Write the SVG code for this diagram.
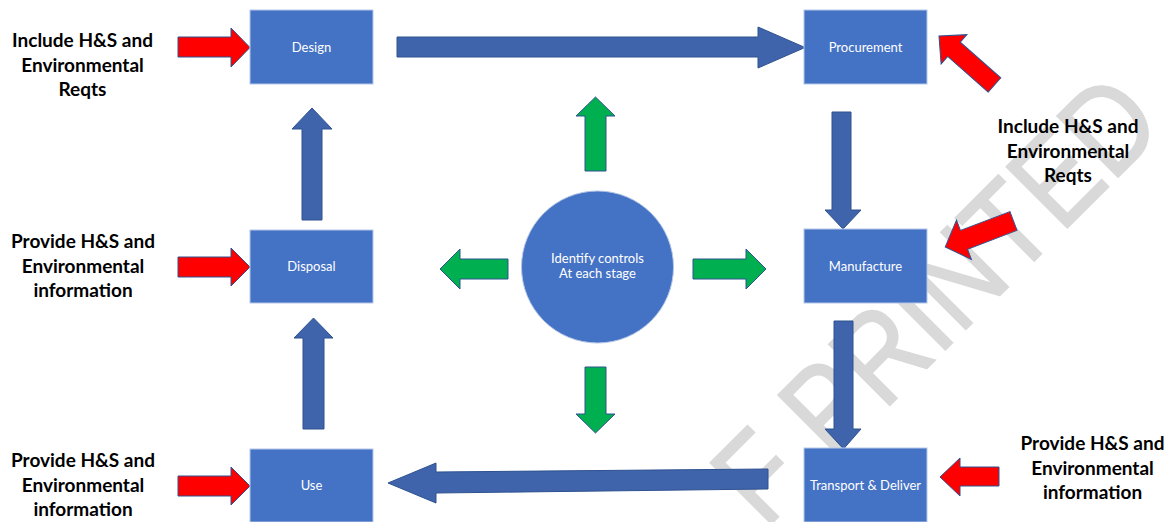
<svg xmlns="http://www.w3.org/2000/svg" width="1172" height="522" viewBox="0 0 1172 522">
<style>
.box{fill:#4472C4;stroke:#b4c7e7;stroke-width:1}
.bt{font-family:Lato,"Liberation Sans",sans-serif;font-size:13px;fill:#ffffff;text-anchor:middle}
.lbl{font-family:Lato,"Liberation Sans",sans-serif;font-size:19px;font-weight:bold;fill:#000000;text-anchor:middle}
.blue{fill:#3F64AB;stroke:#2F528F;stroke-width:1}
.green{fill:#00B050;stroke:#2F528F;stroke-width:1}
.red{fill:#FF0000;stroke:#2F528F;stroke-width:1}
.wm{font-family:"Liberation Sans",sans-serif;font-size:125px;fill:#d9d9d9;stroke:#d9d9d9;stroke-width:2}
</style>
<rect width="1172" height="522" fill="#ffffff"/>
<g id="watermark">
<text class="wm" transform="translate(765,530) rotate(-45)" x="0" y="0" textLength="568" lengthAdjust="spacingAndGlyphs">F PRINTED</text>
</g>
<g id="connectors">
<polygon class="blue" points="397,37 758,37 758,27 805,47.5 758,68 758,57 397,57"/>
<polygon class="blue" points="832,112 851,112 851,210 861,210 843,229 825,210 832,210"/>
<polygon class="blue" points="834,321 853,321 853,429 861,429 843.5,449 825,429 834,429"/>
<polygon class="blue" points="768,469 768,489 436,493 436,503 388,483 436,463 436,472"/>
<polygon class="blue" points="303,429 324,429 324,338 333,338 313.5,318 294,338 303,338"/>
<polygon class="blue" points="302,220 322,220 322,129 332,129 312,108 292,129 302,129"/>
<polygon class="green" points="585,171 606,171 606,116 615,116 595.5,97 576,116 585,116"/>
<polygon class="green" points="585,367 606,367 606,414 615,414 595.5,433 576,414 585,414"/>
<polygon class="green" points="508,259 508,279 460,279 460,289 440,269 460,249 460,259"/>
<polygon class="green" points="693,259 746,259 746,249 766,269 746,289 746,279 693,279"/>
<polygon class="red" points="178,37 231,37 231,28 250,47.5 231,67 231,57 178,57"/>
<polygon class="red" points="178,257 231,257 231,248 250,267 231,286 231,277 178,277"/>
<polygon class="red" points="178,476 231,476 231,467 250,486 231,505 231,496 178,496"/>
<polygon class="red" points="999,467 960,467 960,458 940,477 960,496 960,486 999,486"/>
<path class="red" transform="translate(994.5,85) rotate(-138.6)" d="M0,-9.5 L54,-9.5 L54,-19.5 L74,0 L54,19.5 L54,9.5 L0,9.5 Z"/>
<path class="red" transform="translate(1013.5,221) rotate(159.2)" d="M0,-10 L53,-10 L53,-21 L73,0 L53,21 L53,10 L0,10 Z"/>
</g>
<g id="design"><rect class="box" x="250" y="10" width="123" height="74"/><text class="bt" x="311.5" y="51.5">Design</text></g>
<g id="procurement"><rect class="box" x="804" y="10" width="123" height="74"/><text class="bt" x="865.5" y="51.5">Procurement</text></g>
<g id="manufacture"><rect class="box" x="804" y="229" width="123" height="74"/><text class="bt" x="865.5" y="271">Manufacture</text></g>
<g id="transport"><rect class="box" x="804" y="448" width="123" height="74"/><text class="bt" x="865.5" y="490">Transport &amp; Deliver</text></g>
<g id="disposal"><rect class="box" x="250" y="230" width="123" height="73"/><text class="bt" x="311.5" y="271">Disposal</text></g>
<g id="use"><rect class="box" x="250" y="449" width="123" height="73"/><text class="bt" x="311.5" y="490">Use</text></g>
<g id="controls"><circle cx="597.5" cy="267" r="76" fill="#4472C4" stroke="#b4c7e7" stroke-width="1"/><text class="bt" x="597.5" y="263">Identify controls</text><text class="bt" x="597.5" y="278">At each stage</text></g>
<g id="label-design"><text class="lbl" x="82.5" y="47">Include H&amp;S and</text><text class="lbl" x="82.5" y="71.5">Environmental</text><text class="lbl" x="82.5" y="96">Reqts</text></g>
<g id="label-disposal"><text class="lbl" x="83" y="248">Provide H&amp;S and</text><text class="lbl" x="83" y="273">Environmental</text><text class="lbl" x="83" y="297">information</text></g>
<g id="label-use"><text class="lbl" x="83" y="467">Provide H&amp;S and</text><text class="lbl" x="83" y="492">Environmental</text><text class="lbl" x="83" y="516">information</text></g>
<g id="label-procurement"><text class="lbl" x="1068" y="133">Include H&amp;S and</text><text class="lbl" x="1068" y="158">Environmental</text><text class="lbl" x="1068" y="182">Reqts</text></g>
<g id="label-transport"><text class="lbl" x="1092.5" y="450">Provide H&amp;S and</text><text class="lbl" x="1092.5" y="475">Environmental</text><text class="lbl" x="1092.5" y="499">information</text></g>
</svg>
